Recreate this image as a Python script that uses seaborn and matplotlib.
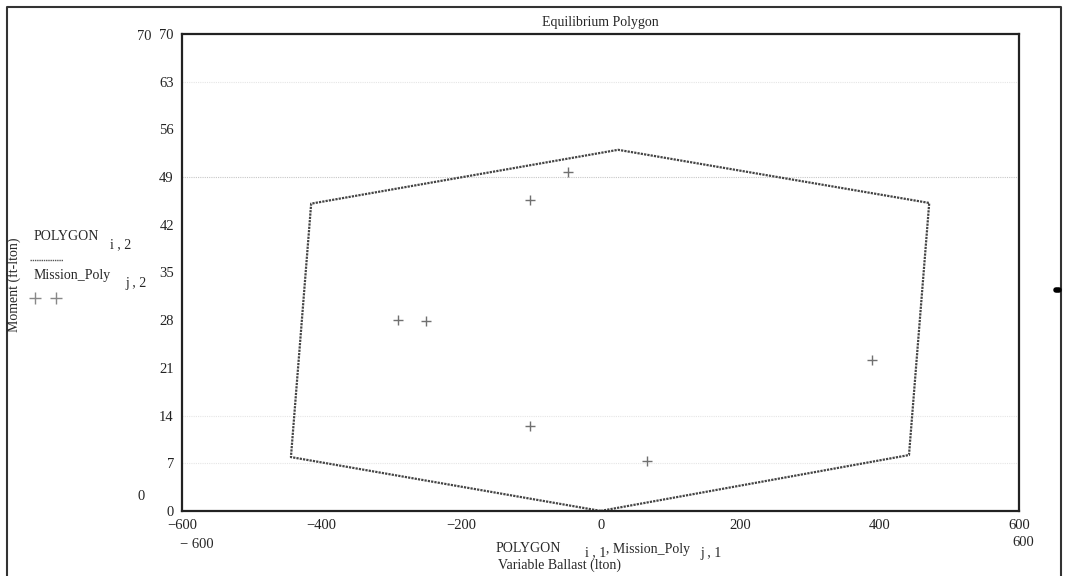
import numpy as np
import pandas as pd
import matplotlib
matplotlib.use("Agg")
import matplotlib.pyplot as plt
import seaborn as sns
from matplotlib.lines import Line2D

# polygon corners (closed), variable ballast vs moment
poly_x = [0, 442, 471, 25, -415, -444, 0]
poly_y = [0, 8.2, 45.2, 53.0, 45.1, 7.9, 0]

# mission points
mission_x = [-47, -101, -290, -250, 389, -101, 67]
mission_y = [49.8, 45.7, 28.0, 27.9, 22.2, 12.5, 7.3]

x_ticks = [-600, -400, -200, 0, 200, 400, 600]
y_ticks = [0, 7, 14, 21, 28, 35, 42, 49, 56, 63, 70]
grid_rows = [7, 14, 49, 63]

df_poly = pd.DataFrame({"x": poly_x, "y": poly_y})
df_mis = pd.DataFrame({"x": mission_x, "y": mission_y})

sns.set_style("white")
plt.rcParams['font.family'] = ['Liberation Serif', 'DejaVu Serif']

fig = plt.figure(figsize=(10.65, 5.76), dpi=100)
ax = fig.add_axes([0.171, 0.113, 0.786, 0.828])

#faint dotted grid rows
for g in grid_rows:
    a = 0.55 if g == 49 else 0.25
    ax.axhline(g, color="#999999", lw=0.8, ls=(0, (1, 1)), alpha=a, zorder=0)

sns.lineplot(data=df_poly, x="x", y="y", sort=False, estimator=None,
             color="#444444", lw=1.6, ls=(0, (1, 0.5)), ax=ax)
sns.scatterplot(data=df_mis, x="x", y="y", marker="+", s=60,
                color="#707070", linewidth=1.0, ax=ax)

ax.set_xlim(-600, 600)
ax.set_ylim(0, 70)
ax.set_xticks(x_ticks)
ax.set_xticklabels([str(t).replace("-", "\u2212") for t in x_ticks])
ax.set_yticks(y_ticks)
ax.tick_params(length=0, labelsize=10.5, colors="#222222", pad=6)
ax.set_xlabel("")
ax.set_ylabel("")
for s in ax.spines.values():
    s.set_color("#222222")
    s.set_linewidth(1.6)

ax.set_title("Equilibrium Polygon", fontsize=10, pad=6)

# extra range labels like the original
fig.text(137 / 1065, 1 - 37 / 576, "70", fontsize=10.5, va="center")
fig.text(138 / 1065, 1 - 497 / 576, "0", fontsize=10.5, va="center")
fig.text(180 / 1065, 1 - 545 / 576, "\u2212 600", fontsize=10.5, va="center")
fig.text(1012 / 1065, 1 - 543 / 576, "600", fontsize=10.5, va="center")

# axis labels
fig.text(14 / 1065, 0.505, "Moment (ft-lton)", rotation=90, fontsize=10,
         ha="center", va="center")
fig.text(496 / 1065, 1 - 549 / 576, "POLYGON", fontsize=10, va="center")
fig.text(585 / 1065, 1 - 553 / 576, "i , 1", fontsize=10, va="center")
fig.text(606 / 1065, 1 - 549 / 576, ", Mission_Poly", fontsize=10, va="center")
fig.text(700 / 1065, 1 - 553 / 576, "j , 1", fontsize=10, va="center")
fig.text(560 / 1065, 1 - 565 / 576, "Variable Ballast (lton)", fontsize=10,
         ha="center", va="center")

# legend block on the left
fig.text(34 / 1065, 1 - 237 / 576, "POLYGON", fontsize=10, va="center")
fig.text(110 / 1065, 1 - 245 / 576, "i , 2", fontsize=10, va="center")
fig.add_artist(Line2D([30 / 1065, 63 / 1065], [1 - 260 / 576, 1 - 260 / 576],
                      color="#555555", lw=1.0, ls=(0, (1, 0.6))))
fig.text(34 / 1065, 1 - 275 / 576, "Mission_Poly", fontsize=10, va="center")
fig.text(125 / 1065, 1 - 283 / 576, "j , 2", fontsize=10, va="center")
fig.add_artist(Line2D([35 / 1065, 56 / 1065], [1 - 298 / 576, 1 - 298 / 576],
                      color="#888888", lw=0, marker="+", markersize=8))

# outer frame
fx0, fx1 = 7 / 1065, 1061 / 1065
fy1 = 1 - 7 / 576
fig.add_artist(Line2D([fx0, fx0, fx1, fx1], [0, fy1, fy1, 0],
                      color="#333333", lw=1.5))
fig.add_artist(Line2D([1056 / 1065, 1059 / 1065], [1 - 290 / 576, 1 - 290 / 576],
                      color="black", lw=4))

fig.savefig("out.png", dpi=100)
